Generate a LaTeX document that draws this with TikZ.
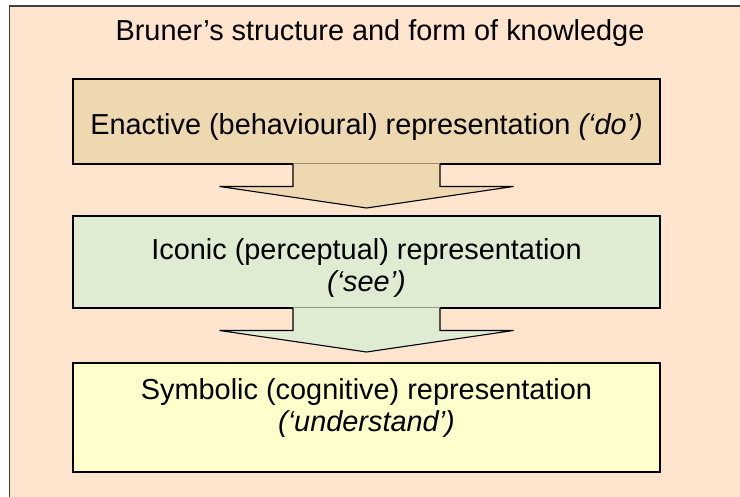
\documentclass[tikz,border=0pt]{standalone}
\usepackage{fontspec}
\setmainfont{Liberation Sans}
\usetikzlibrary{calc,shadows}

\definecolor{pagepeach}{RGB}{255,228,206}
\definecolor{enactfill}{RGB}{238,216,176}
\definecolor{iconfill}{RGB}{224,236,210}
\definecolor{symbfill}{RGB}{255,255,204}

\begin{document}
\begin{tikzpicture}[x=1bp,y=-1bp,
  every node/.style={font=\fontsize{29}{32.4}\selectfont, inner sep=0pt, outer sep=0pt},
  stagebox/.style={draw=black, line width=1.3bp, rectangle, minimum width=587bp,
    drop shadow={shadow xshift=1.3bp, shadow yshift=-1.3bp, fill=black!60, opacity=1}},
  stagetext/.style={align=center, anchor=center},
  blockarrow/.style={line width=1.1bp, draw=black, line join=miter}]

  \useasboundingbox (0,0) rectangle (740,497);
  \fill[white] (0,0) rectangle (740,497);

  % page frame (continues past the right and bottom edges)
  \draw[fill=pagepeach, draw=black!75, line width=1.4bp] (9.5,6) rectangle (770,530);

  % title
  \node[anchor=base] (title) at (380,41) {Bruner’s structure and form of knowledge};

  % the three stages
  \node[stagebox, fill=enactfill, minimum height=85bp] (enactive) at (366.5,121.5) {};
  \node[stagebox, fill=iconfill, minimum height=92bp] (iconic) at (366.5,262) {};
  \node[stagebox, fill=symbfill, minimum height=109bp] (symbolic) at (366.5,417.5) {};

  \node[anchor=base] (enactiveText) at (366.5,135) {Enactive (behavioural) representation \textit{(‘do’)}};
  \node[stagetext] (iconicText) at (366.5,268) {Iconic (perceptual) representation\\\textit{(‘see’)}};
  \node[stagetext] (symbolicText) at (366.5,408) {Symbolic (cognitive) representation\\\textit{(‘understand’)}};

  % block arrows hanging from the bottom edge of a stage
  \foreach \src/\col in {enactive/enactfill, iconic/iconfill}{
    \coordinate (s) at (\src.south);
    \fill[\col] ($(s)+(-73.5,-0.7)$) -- ($(s)+(-73.5,22.5)$) -- ($(s)+(-147,22.5)$)
      -- ($(s)+(0,44)$) -- ($(s)+(147,22.5)$) -- ($(s)+(73.5,22.5)$)
      -- ($(s)+(73.5,-0.7)$) -- cycle;
    \draw[blockarrow] ($(s)+(-73.5,0)$) -- ($(s)+(-73.5,22.5)$) -- ($(s)+(-147,22.5)$)
      -- ($(s)+(0,44)$) -- ($(s)+(147,22.5)$) -- ($(s)+(73.5,22.5)$)
      -- ($(s)+(73.5,0)$);
  }
\end{tikzpicture}
\end{document}
